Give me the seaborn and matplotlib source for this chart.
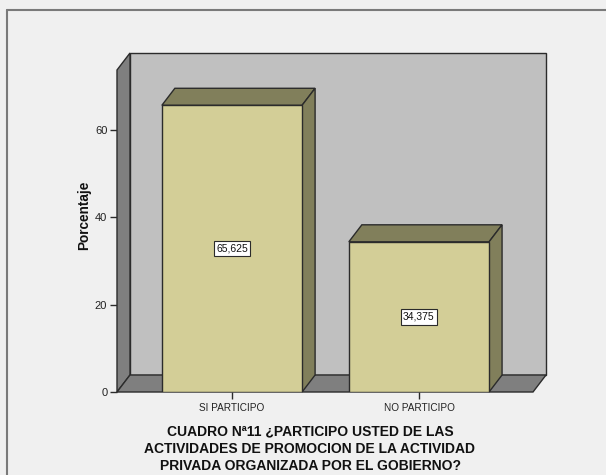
import matplotlib
matplotlib.use("Agg")
import matplotlib.pyplot as plt
import seaborn as sns
import pandas as pd
from matplotlib.patches import Polygon
from matplotlib.lines import Line2D

# Data
categorias = ["SI PARTICIPO", "NO PARTICIPO"]
porcentaje = [65.625, 34.375]
yticks = [0, 20, 40, 60]
titulo = [
    "CUADRO Nª11 ¿PARTICIPO USTED DE LAS",
    "ACTIVIDADES DE PROMOCION DE LA ACTIVIDAD",
    "PRIVADA ORGANIZADA POR EL GOBIERNO?",
]

# Colours
FONDO = "#f0f0f0"
PARED = "#c0c0c0"
PARED_OSC = "#7f7f7f"
BARRA = "#d3ce97"
BARRA_OSC = "#817f5b"
BORDE = "#2b2b2b"

sns.set_style("white")
plt.rcParams["font.family"] = ["Liberation Sans", "DejaVu Sans"]

W, H = 606, 475
fig = plt.figure(figsize=(W / 100, H / 100), dpi=100, facecolor=FONDO)
ax = fig.add_axes([117 / W, (H - 392) / H, (533 - 117) / W, (392 - 70) / H])
ax.set_facecolor("none")
for s in ax.spines.values():
    s.set_visible(False)

df = pd.DataFrame({"cat": categorias, "pct": porcentaje})
sns.barplot(data=df, x="cat", y="pct", color=BARRA, saturation=1, width=0.75,
            edgecolor=BORDE, linewidth=1, ax=ax, zorder=5)
ax.set_xlim(-0.615, 1.61)
ax.set_ylim(0, 73.7)

# depth of the 3D effect, in pixels
DX, DY = 13, 17


def back(x, y):
    px = ax.transData.transform((x, y)) + (DX, DY)
    return tuple(ax.transData.inverted().transform(px))


def poly(pts, fc, z):
    ax.add_patch(Polygon(pts, closed=True, fc=fc, ec=BORDE, lw=1,
                         zorder=z, clip_on=False, joinstyle="miter"))


x0, x1 = ax.get_xlim()
y0, y1 = ax.get_ylim()
bars = list(ax.patches)

# back wall, left wall and floor
poly([back(x0, y0), back(x1, y0), back(x1, y1), back(x0, y1)], PARED, 0.5)
poly([(x0, y0), (x0, y1), back(x0, y1), back(x0, y0)], PARED_OSC, 0.6)
poly([(x0, y0), (x1, y0), back(x1, y0), back(x0, y0)], PARED_OSC, 0.7)

# top and side faces of each bar, plus value label
for p, v in zip(bars, porcentaje):
    x, w, h = p.get_x(), p.get_width(), p.get_height()
    poly([(x, h), (x + w, h), back(x + w, h), back(x, h)], BARRA_OSC, 4)
    poly([(x + w, 0), (x + w, h), back(x + w, h), back(x + w, 0)], BARRA_OSC, 4)
    ax.text(x + w / 2, h / 2, f"{v:.3f}".replace(".", ","), ha="center", va="center",
            fontsize=7.5, color="#111", zorder=10,
            bbox=dict(boxstyle="square,pad=0.25", fc="white", ec=BORDE, lw=0.8))

ax.set_yticks(yticks)
ax.tick_params(axis="both", bottom=True, left=True, length=5, width=1,
               color=BORDE, labelsize=8, labelcolor="#222", pad=2)
ax.tick_params(axis="x", labelsize=7.2, pad=3)

ax.set_ylabel("Porcentaje", fontsize=9.8, fontweight="bold", color="#111")
ax.yaxis.set_label_coords(-0.061, 0.55)
ax.set_xlabel("\n".join(titulo), fontsize=10, fontweight="bold", color="#111",
              linespacing=1.27)
ax.xaxis.set_label_coords((310 - 117) / 416, -0.102)
ax.xaxis.label.set_va("top")

# outer frame
fig.add_artist(Line2D([7 / W, 7 / W], [0, 1 - 10 / H], transform=fig.transFigure,
                      color="#7a7a7a", lw=1.5))
fig.add_artist(Line2D([7 / W, 1], [1 - 10 / H, 1 - 10 / H], transform=fig.transFigure,
                      color="#7a7a7a", lw=1.5))

fig.savefig("out.png", dpi=100, facecolor=FONDO)
